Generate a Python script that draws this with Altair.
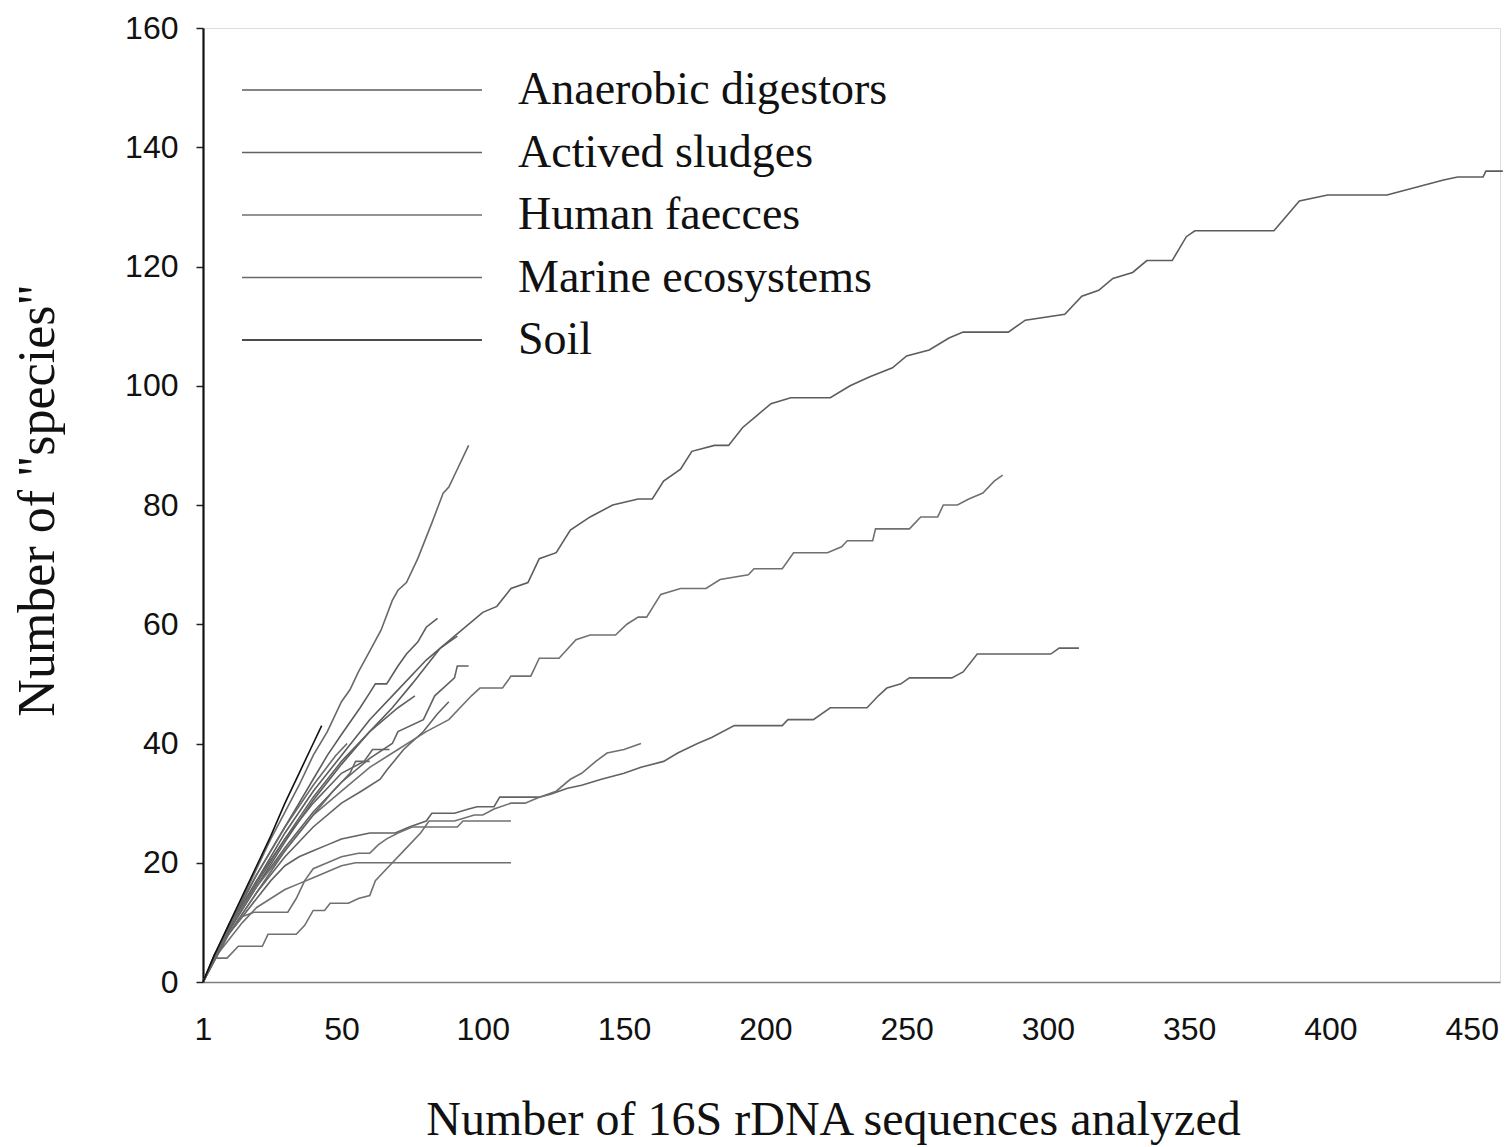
import altair as alt
import pandas as pd

# ---- environments / legend ----
ENVS = ["Anaerobic digestors", "Actived sludges", "Human faecces", "Marine ecosystems", "Soil"]
ENV_COLORS = ["#5c5c5c", "#626262", "#707070", "#686868", "#111111"]
ENV_WIDTHS = [1.6, 1.6, 1.6, 1.6, 2.6]

X_TICKS = [1, 50, 100, 150, 200, 250, 300, 350, 400, 450]
Y_TICKS = [0, 20, 40, 60, 80, 100, 120, 140, 160]

# ---- rarefaction curves (x = sequences analysed, y = number of "species") ----
A_X = [1, 10, 20, 30, 40, 50, 60, 70, 80, 90, 100, 105, 110, 116, 120, 126, 131, 138, 146, 155, 160, 164, 170, 174,
       182, 187, 192, 197, 202, 209, 223, 230, 237, 245, 250, 258, 265, 270, 286, 292, 306, 312, 318, 323, 330, 335,
       344, 349, 352, 380, 389, 399, 420, 428, 440, 445, 454, 455, 461]
A_Y = [0, 9, 17, 25, 32, 38, 44, 49, 54, 58, 62, 63, 66, 67, 71, 72, 75.8, 78, 80, 81, 81, 84, 86, 89,
       90, 90, 93, 95, 97, 98, 98, 100, 101.5, 103, 105, 106, 108, 109, 109, 111, 112, 115, 116, 118, 119, 121,
       121, 125, 126, 126, 131, 132, 132, 133, 134.5, 135, 135, 136, 136]

B_X = [1, 10, 20, 30, 40, 50, 60, 70, 80, 88, 96, 99, 107, 110, 117, 120, 127, 133, 138, 147, 151, 155, 158, 163,
       170, 179, 184, 194, 196, 206, 210, 222, 227, 229, 238, 239, 251, 255, 261, 263, 268, 272, 277, 281, 284]
B_Y = [0, 9, 16, 22, 28, 32, 36, 39, 42, 44, 48, 49.3, 49.3, 51.3, 51.3, 54.3, 54.3, 57.4, 58.2, 58.2, 60, 61.2, 61.2, 65,
       66, 66, 67.5, 68.3, 69.3, 69.3, 72, 72, 73, 74, 74, 76, 76, 78, 78, 80, 80, 81, 82, 84, 85]

C_X = [1, 5, 10, 15, 20, 25, 30, 35, 40, 45, 50, 55, 60, 69, 74, 80, 82, 90, 95, 98, 104, 106, 120, 124, 130, 135,
       142, 150, 156, 164, 169, 176, 181, 189, 206, 208, 217, 223, 236, 240, 243, 248, 251, 266, 270, 275, 301, 304, 311]
C_Y = [0, 4.5, 8, 11, 14, 17, 19.5, 21, 22, 23, 24, 24.5, 25, 25, 26, 27, 28.3, 28.3, 29, 29.4, 29.4, 31, 31, 31.5, 32.5, 33,
       34, 35, 36, 37, 38.4, 40, 41, 43, 43, 44, 44, 46, 46, 48, 49.3, 50, 51, 51, 52, 55, 55, 56, 56]

D_X = [1, 6, 10, 15, 20, 25, 30, 35, 40, 45, 50, 53, 56, 60, 64, 68, 70, 73, 77, 82, 86, 88, 91, 95]
D_Y = [0, 5, 9, 14, 19, 24, 28.5, 33, 38, 42, 47, 49, 52, 55.5, 59, 64, 65.7, 67, 71, 77, 82, 83, 86, 90]

E_X = [1, 5, 10, 15, 20, 25, 30, 35, 40, 43]
E_Y = [0, 4.5, 9.5, 14.5, 19.5, 24.5, 30, 35, 40, 43]

F_X = [1, 5, 10, 15, 20, 25, 30, 35, 40, 45, 50, 56.6, 60, 62, 66, 70, 73, 77, 80, 84]
F_Y = [0, 4.5, 9, 13.5, 18, 22, 26, 30, 34, 38, 41.5, 46, 48.5, 50, 50, 53, 55, 57, 59.5, 61]

G_X = [1, 10, 20, 30, 40, 50, 60, 68, 70, 79, 83, 90, 91, 95]
G_Y = [0, 8.5, 16, 22.5, 28.5, 33.5, 37.5, 40, 42, 44, 48, 51, 53, 53]

H_X = [1, 10, 20, 30, 40, 50, 57, 63.7, 66, 72, 79, 84, 88]
H_Y = [0, 8, 15, 21, 26, 30, 32, 34, 35.5, 39, 42, 45, 47]

I_X = [1, 3, 5, 9.5, 13.5, 22, 24, 34, 37, 40, 44, 46, 52.5, 56, 60, 62, 68, 72, 78, 81, 90, 97, 100, 104, 110, 115,
       120, 126, 131, 135, 140, 144, 150, 156]
I_Y = [0, 2, 4, 4, 6, 6, 8, 8, 9.5, 12, 12, 13.2, 13.2, 14, 14.5, 17, 20, 22, 25, 27, 27, 28, 28, 29, 30, 30,
       31, 32, 34, 35, 37, 38.4, 39, 40]

J_X = [1, 5, 10, 15, 20, 25, 30, 35, 40, 45, 50, 55, 110]
J_Y = [0, 4, 7, 10, 12.5, 14, 15.5, 16.5, 17.5, 18.5, 19.5, 20, 20]

K_X = [1, 5, 10, 15, 19, 31, 34, 37, 40, 45, 50, 56, 60, 63, 66, 70, 75, 91, 93, 110]
K_Y = [0, 4, 8, 11, 11.7, 11.7, 14, 17, 19, 20, 21, 21.6, 21.6, 23, 24, 25, 26, 26, 27, 27]

L_X = [1, 10, 20, 30, 40, 50, 60, 68, 75, 80, 85, 91]
L_Y = [0, 8.5, 16, 23.5, 30.5, 36.5, 42, 46, 50, 53, 56, 58]

M_X = [1, 10, 20, 30, 40, 47, 53, 55, 60]
M_Y = [0, 8, 15, 22, 28, 32, 35, 37, 37]

N_X = [1, 10, 20, 30, 40, 50, 58, 61, 67]
N_Y = [0, 8.5, 16.5, 24, 30, 35, 37, 39, 39]

O_X = [1, 10, 20, 30, 40, 50, 60, 70, 76]
O_Y = [0, 9, 17, 24, 31, 37, 42, 46, 48]

P_X = [1, 10, 20, 30, 40, 48, 52]
P_Y = [0, 9.5, 18, 26, 33, 38, 40]

CURVES = [
    ("A", A_X, A_Y, "Anaerobic digestors"),
    ("F", F_X, F_Y, "Anaerobic digestors"),
    ("L", L_X, L_Y, "Anaerobic digestors"),
    ("C", C_X, C_Y, "Actived sludges"),
    ("G", G_X, G_Y, "Actived sludges"),
    ("H", H_X, H_Y, "Actived sludges"),
    ("N", N_X, N_Y, "Actived sludges"),
    ("O", O_X, O_Y, "Actived sludges"),
    ("B", B_X, B_Y, "Human faecces"),
    ("I", I_X, I_Y, "Human faecces"),
    ("J", J_X, J_Y, "Human faecces"),
    ("K", K_X, K_Y, "Human faecces"),
    ("D", D_X, D_Y, "Marine ecosystems"),
    ("M", M_X, M_Y, "Marine ecosystems"),
    ("P", P_X, P_Y, "Marine ecosystems"),
    ("E", E_X, E_Y, "Soil"),
]

rows = []
for cid, xs, ys, env in CURVES:
    for i, (xv, yv) in enumerate(zip(xs, ys)):
        rows.append({"curve": cid, "env": env, "i": i, "x": xv, "y": yv})
df = pd.DataFrame(rows)

SERIF = "Liberation Serif"
SANS = "Liberation Sans"

chart = alt.Chart(df).mark_line(strokeJoin="miter").encode(
    x=alt.X("x:Q",
            scale=alt.Scale(domain=[1, 460], nice=False, zero=False),
            axis=alt.Axis(values=X_TICKS, ticks=False, grid=False, labelFlush=False,
                          labelPadding=32, labelFontSize=32, labelFont=SANS, labelColor="#111",
                          domainColor="#808080", domainWidth=1.5,
                          title="Number of 16S rDNA sequences analyzed",
                          titleFont=SERIF, titleFontSize=48, titleFontWeight="normal", titleColor="#111",
                          titleX=630, titleY=138, titleBaseline="middle", titleAlign="center")),
    y=alt.Y("y:Q",
            scale=alt.Scale(domain=[0, 160], nice=False),
            axis=alt.Axis(values=Y_TICKS, grid=False, tickSize=7, tickColor="#222", tickWidth=1.5,
                          labelPadding=18, labelFontSize=32, labelFont=SANS, labelColor="#111",
                          domainColor="#111", domainWidth=2.2,
                          title='Number of "species"',
                          titleFont=SERIF, titleFontSize=52, titleFontWeight="normal", titleColor="#111",
                          titleX=-166, titleY=472, titleAngle=-90, titleBaseline="middle", titleAlign="center")),
    detail="curve:N",
    order="i:Q",
    color=alt.Color("env:N",
                    scale=alt.Scale(domain=ENVS, range=ENV_COLORS),
                    legend=alt.Legend(title=None, orient="none", legendX=38, legendY=39,
                                      symbolType="stroke", symbolSize=57600, symbolStrokeWidth=2,
                                      symbolOffset=0, clipHeight=46, rowPadding=16.5,
                                      labelOffset=35, labelFont=SERIF, labelFontSize=46,
                                      labelColor="#111", labelLimit=600, padding=0)),
    strokeWidth=alt.StrokeWidth("env:N", scale=alt.Scale(domain=ENVS, range=ENV_WIDTHS), legend=None),
).properties(
    width=1297,
    height=954,
    autosize=alt.AutoSizeParams(type="none"),
    padding={"left": 203, "top": 28, "right": 8, "bottom": 165},
).configure_view(
    stroke="#b5b5b5", strokeWidth=1
).configure(background="white")

chart.save("out.html", embed_options={"renderer": "svg", "actions": False})
